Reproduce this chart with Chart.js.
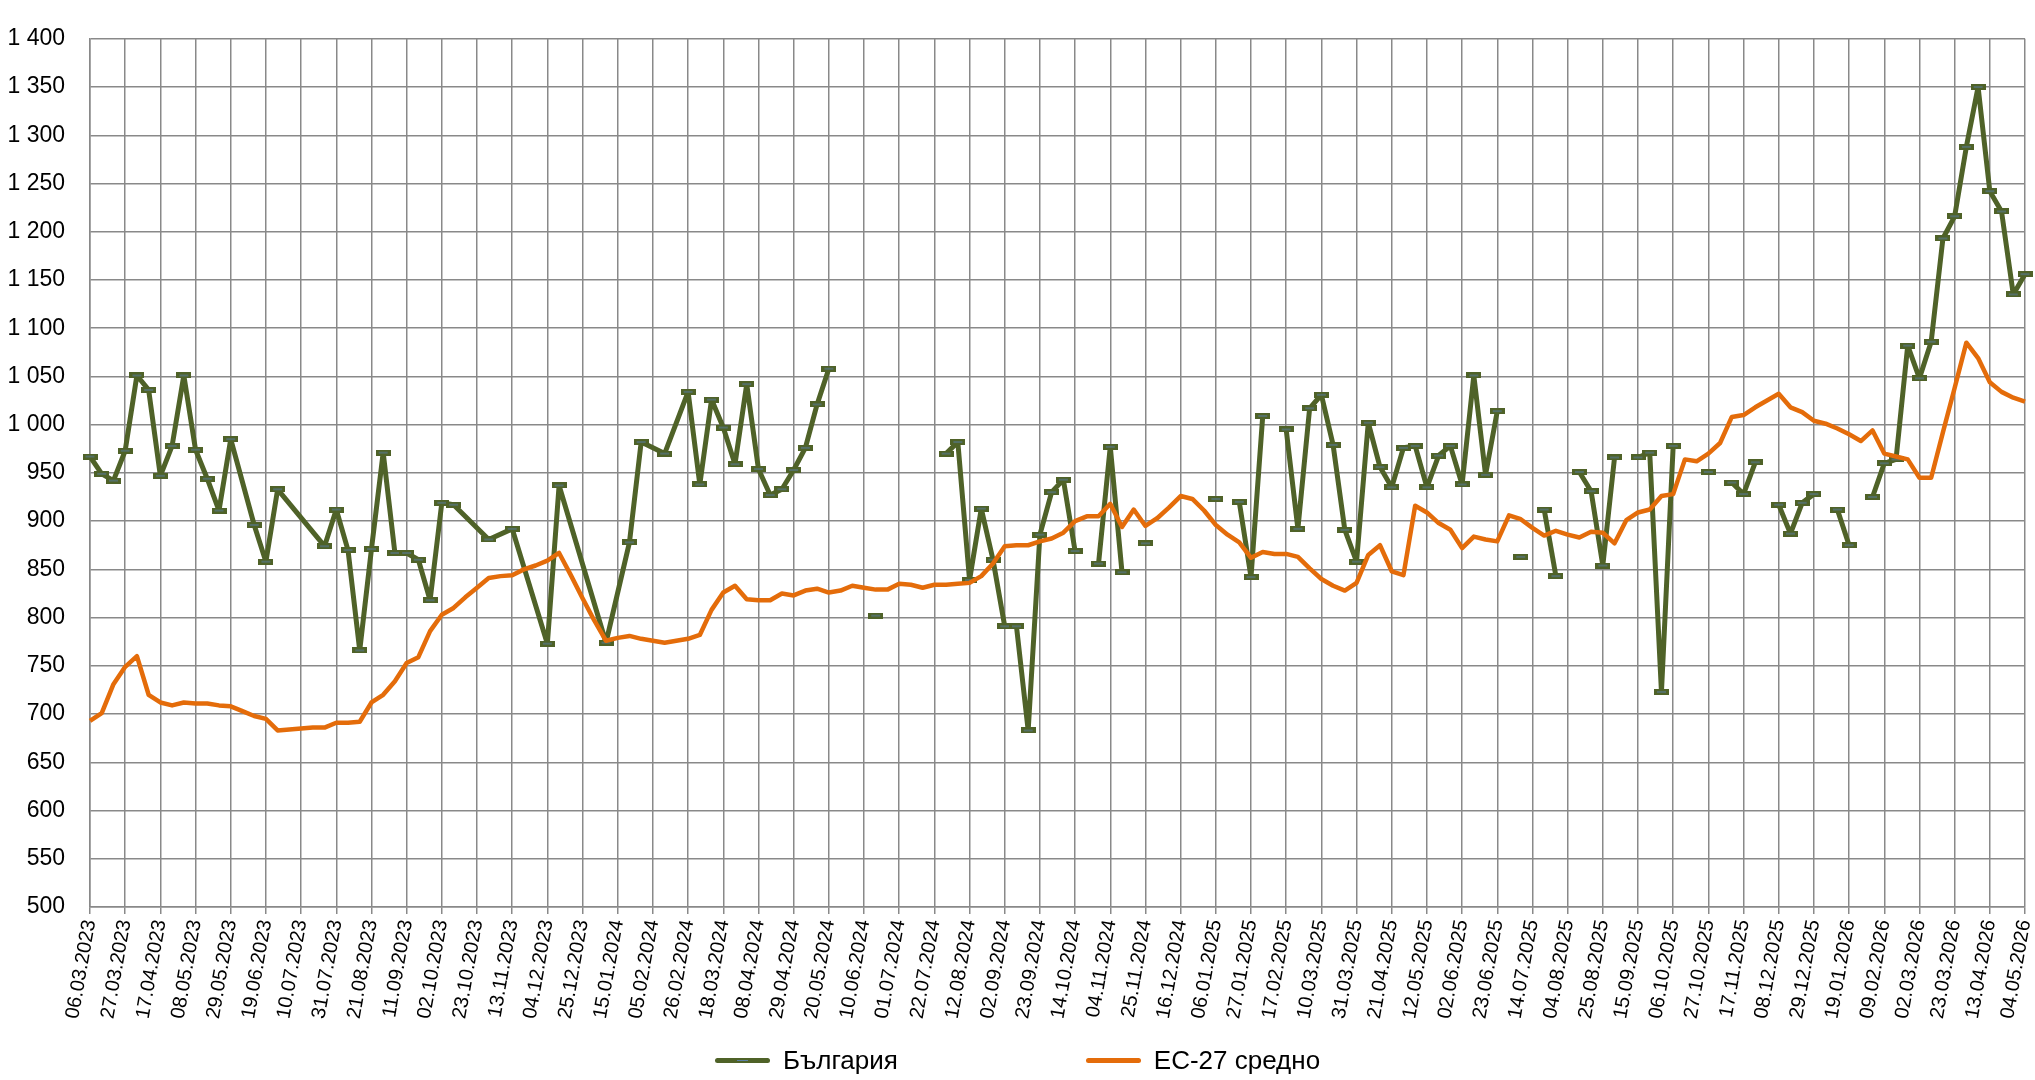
<!DOCTYPE html>
<html lang="bg">
<head>
<meta charset="utf-8">
<title>България и ЕС-27</title>
<script src="https://cdn.jsdelivr.net/npm/chart.js@4.4.1/dist/chart.umd.min.js"></script>
<style>
    html, body { margin: 0; padding: 0; background: #fff; }
    #wrap { position: relative; width: 2035px; height: 1080px; }
    #legend {
        position: absolute; left: 0; right: 0; top: 1044px;
        display: flex; justify-content: center; gap: 188px;
        font: 26px "Liberation Sans", Arial, sans-serif; line-height: 32px; color: #000;
    }
    #legend .item { display: flex; align-items: center; }
    #legend .swatch { width: 55px; height: 5px; border-radius: 3px; margin-right: 13px; position: relative; }
    #legend .dash { position: absolute; left: 22px; top: 2px; width: 11px; height: 1px; background: #5b7fa6; }
</style>
</head>
<body>
<div id="wrap">
    <canvas id="priceChart"></canvas>
    <div id="legend">
        <div class="item"><span class="swatch" style="background:#4f6228"><span class="dash"></span></span>България</div>
        <div class="item"><span class="swatch" style="background:#e46c0a"></span>ЕС-27 средно</div>
    </div>
</div>
<script>
    // NA = no price that week, but the line is carried across it (like #N/A in Excel)
    // null = no price, the line is broken
    const NA = NaN;

    // weekly dates, first one 06.03.2023, last one 04.05.2026
    const firstWeek = Date.UTC(2023, 2, 6);
    const weekCount = 166;

    const bulgaria = [
        967, 949, 942, 973, 1051, 1036, 947, 978, 1051, 974,
        944, 911, 985, NA, 896, 858, 933, NA, NA, NA,
        874, 912, 870, 766, 871, 971, 867, 867, 860, 818,
        919, 917, NA, NA, 881, NA, 892, NA, NA, 773,
        937, NA, NA, NA, 774, NA, 878, 982, NA, 970,
        NA, 1034, 938, 1026, 997, 959, 1042, 954, 927, 933,
        953, 976, 1021, 1058, null, null, null, 802, null, null,
        null, null, null, 970, 982, 839, 913, 860, 791, 791,
        683, 886, 930, 943, 869, null, 856, 977, 847, null,
        877, null, null, null, null, null, 923, null, 920, 842,
        1009, null, 995, 892, 1017, 1031, 979, 891, 858, 1002,
        956, 935, 976, 978, 935, 968, 978, 938, 1051, 948,
        1014, null, 863, null, 912, 843, null, 951, 931, 854,
        966, null, 966, 971, 723, 978, null, null, 951, null,
        940, 928, 961, null, 917, 887, 919, 928, null, 912,
        875, null, 925, 960, 964, 1082, 1048, 1086, 1193, 1216,
        1288, 1350, 1242, 1221, 1135, 1156
    ];

    const eu27 = [
        693, 701, 731, 749, 760, 720, 712, 709, 712, 711,
        711, 709, 708, 703, 698, 695, 683, 684, 685, 686,
        686, 691, 691, 692, 712, 720, 734, 753, 759, 786,
        803, 810, 821, 831, 841, 843, 844, 850, 854, 859,
        867, 844, 820, 797, 776, 779, 781, 778, 776, 774,
        776, 778, 782, 808, 826, 833, 819, 818, 818, 825,
        823, 828, 830, 826, 828, 833, 831, 829, 829, 835,
        834, 831, 834, 834, 835, 836, 843, 856, 874, 875,
        875, 879, 882, 888, 900, 905, 905, 918, 894, 912,
        895, 903, 914, 926, 923, 911, 896, 886, 878, 862,
        868, 866, 866, 863, 851, 840, 833, 828, 836, 865,
        875, 848, 844, 916, 909, 898, 891, 872, 884, 881,
        879, 906, 902, 893, 885, 890, 886, 883, 889, 888,
        877, 901, 909, 912, 926, 928, 964, 962, 970, 981,
        1008, 1010, 1018, 1025, 1032, 1018, 1013, 1004, 1001, 996,
        990, 983, 994, 970, 967, 964, 945, 945, 992, 1038,
        1085, 1069, 1044, 1034, 1028, 1024
    ];

    const yMin = 500;
    const yMax = 1400;
    const yStep = 50;

    const weeks = [];
    for (let i = 0; i < weekCount; i++) {
        const d = new Date(firstWeek + i * 7 * 86400000);
        const dd = String(d.getUTCDate()).padStart(2, "0");
        const mm = String(d.getUTCMonth() + 1).padStart(2, "0");
        weeks.push(dd + "." + mm + "." + d.getUTCFullYear());
    }

    const FONT = "'Liberation Sans', Arial, sans-serif";
    const GRID = "#898989";
    const GREEN = "#4f6228";
    const ORANGE = "#e46c0a";

    // small flat dash used as the marker of the Bulgarian series
    function dashMarker() {
        const c = document.createElement("canvas");
        c.width = 15;
        c.height = 6;
        const g = c.getContext("2d");
        g.fillStyle = GREEN;
        g.fillRect(0, 0, 15, 6);
        g.fillStyle = "#5b7fa6";
        g.fillRect(3, 2.5, 9, 1);
        return c;
    }

    // "1 400" style numbers
    function spaced(v) {
        return String(v).replace(/\B(?=(\d{3})+(?!\d))/g, " ");
    }

    const canvas = document.getElementById("priceChart");
    new Chart(canvas, {
        type: "line",
        data: {
            labels: weeks,
            datasets: [
                {
                    label: "България",
                    data: bulgaria,
                    order: 1,
                    borderColor: GREEN,
                    backgroundColor: GREEN,
                    borderWidth: 5,
                    borderJoinStyle: "round",
                    tension: 0,
                    spanGaps: true,
                    pointStyle: dashMarker(),
                    pointRadius: 5,
                    pointHoverRadius: 5,
                    segment: {
                        // only the NA weeks are bridged, the null weeks stay open
                        borderColor: ctx =>
                            (bulgaria[ctx.p0DataIndex] === null || bulgaria[ctx.p1DataIndex] === null)
                                ? "transparent" : undefined
                    }
                },
                {
                    label: "ЕС-27 средно",
                    data: eu27,
                    order: 0,
                    borderColor: ORANGE,
                    backgroundColor: ORANGE,
                    borderWidth: 4.5,
                    borderJoinStyle: "round",
                    tension: 0,
                    pointRadius: 0
                }
            ]
        },
        options: {
            responsive: true,
            maintainAspectRatio: false,
            animation: false,
            layout: { padding: { top: 20, right: 3, left: 0, bottom: 0 } },
            plugins: {
                legend: { display: false },
                tooltip: { enabled: false }
            },
            scales: {
                x: {
                    offset: false,
                    grid: { color: GRID, lineWidth: 1.5, tickLength: 7 },
                    border: { color: GRID, width: 1.5 },
                    ticks: {
                        autoSkip: false,
                        minRotation: 80,
                        maxRotation: 80,
                        padding: 4,
                        color: "#000",
                        font: { family: FONT, size: 20 },
                        // a date every third week, as on the original axis
                        callback: (v, i) => (i % 3 === 0 ? weeks[i] : null)
                    },
                    afterFit: scale => {
                        scale.height = 173;
                        scale.paddingLeft = 0;
                        scale.paddingRight = 0;
                    }
                },
                y: {
                    min: yMin,
                    max: yMax,
                    grid: { color: GRID, lineWidth: 1.5, drawTicks: false },
                    border: { color: GRID, width: 1.5 },
                    ticks: {
                        stepSize: yStep,
                        padding: 25,
                        color: "#000",
                        font: { family: FONT, size: 23 },
                        callback: v => spaced(v)
                    },
                    afterFit: scale => { scale.width = 90; }
                }
            }
        }
    });
</script>
</body>
</html>
